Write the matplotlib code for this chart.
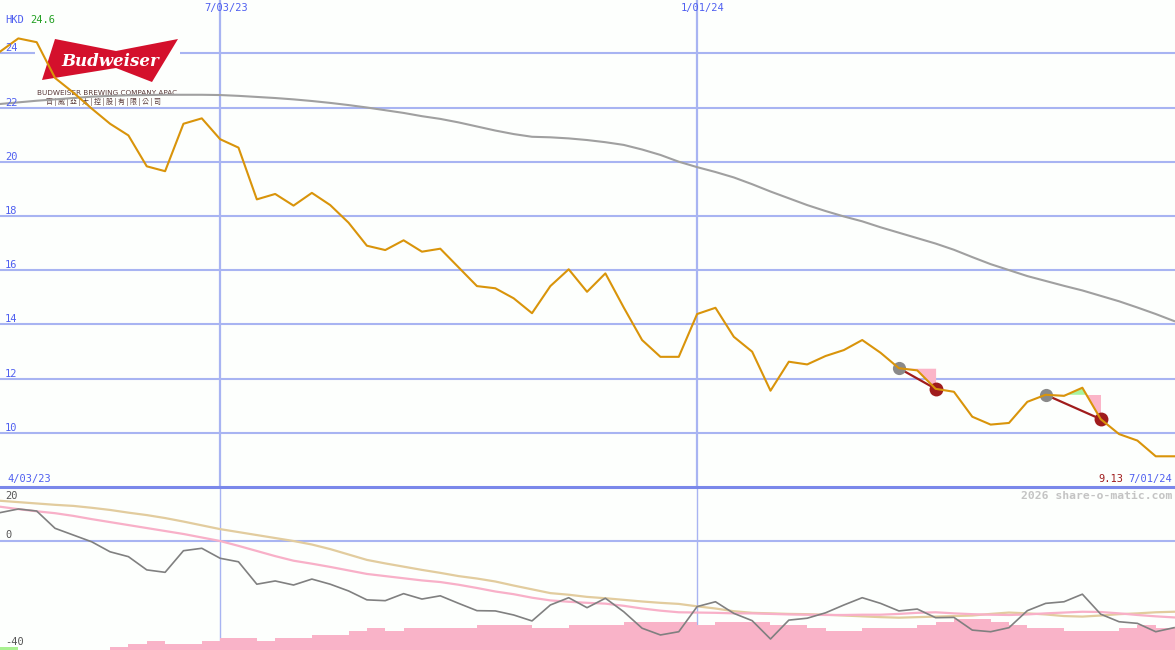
import numpy as np
import pandas as pd
import matplotlib
matplotlib.use('Agg')
import matplotlib.pyplot as plt
import matplotlib.dates as mdates
import matplotlib.transforms as mtransforms
from matplotlib.patches import Polygon, Rectangle

# weekly closes, HKD
weeks = pd.date_range('2023-04-10', periods=65, freq='7D')
price = [24.06, 24.55, 24.41, 23.09, 22.55, 21.96, 21.40, 20.97, 19.83, 19.65,
         21.40, 21.60, 20.83, 20.52, 18.61, 18.81, 18.38, 18.85, 18.40, 17.75,
         16.90, 16.74, 17.10, 16.68, 16.79, 16.10, 15.41, 15.33, 14.96, 14.41,
         15.41, 16.03, 15.20, 15.88, 14.62, 13.42, 12.80, 12.80, 14.38, 14.61,
         13.54, 12.99, 11.55, 12.62, 12.52, 12.83, 13.05, 13.42, 12.95, 12.38,
         12.30, 11.62, 11.51, 10.59, 10.30, 10.36, 11.14, 11.40, 11.36, 11.66,
         10.50, 9.95, 9.71, 9.13, 9.13]
# long moving average (grey)
ma_long = [22.13, 22.19, 22.25, 22.30, 22.35, 22.40, 22.43, 22.45, 22.46, 22.47,
           22.47, 22.47, 22.46, 22.43, 22.39, 22.35, 22.30, 22.24, 22.17, 22.09,
           22.00, 21.90, 21.80, 21.68, 21.58, 21.45, 21.30, 21.15, 21.02, 20.92,
           20.90, 20.86, 20.80, 20.72, 20.62, 20.45, 20.25, 20.00, 19.80, 19.62,
           19.42, 19.17, 18.90, 18.65, 18.40, 18.18, 17.98, 17.80, 17.58, 17.38,
           17.18, 16.98, 16.75, 16.48, 16.22, 16.00, 15.78, 15.60, 15.42, 15.25,
           15.05, 14.85, 14.62, 14.38, 14.12]

# lower panel oscillator
osc = [10.5, 11.85, 11.1, 4.7, 2.2, -0.3, -4.0, -5.8, -10.7, -11.6,
       -3.6, -2.7, -6.4, -7.7, -16.0, -14.8, -16.3, -14.1, -16.0, -18.5,
       -21.8, -22.1, -19.5, -21.5, -20.3, -23.1, -25.8, -25.9, -27.4, -29.6,
       -23.7, -21.0, -24.7, -21.2, -26.2, -32.3, -34.8, -33.6, -24.3, -22.5,
       -26.8, -29.5, -36.3, -29.3, -28.6, -26.6, -23.7, -21.0, -23.1, -25.9,
       -25.2, -28.4, -28.3, -33.0, -33.6, -32.1, -25.8, -23.1, -22.5, -19.7,
       -27.1, -29.9, -30.5, -33.6, -32.1]
osc_pink = [12.7, 11.8, 11.0, 10.3, 9.3, 8.1, 7.0, 5.9, 4.8, 3.7,
            2.6, 1.3, 0.0, -1.8, -3.7, -5.6, -7.3, -8.4, -9.6, -10.9,
            -12.2, -13.0, -13.8, -14.6, -15.2, -16.2, -17.4, -18.7, -19.7, -21.0,
            -22.0, -22.5, -22.9, -23.2, -24.0, -25.0, -25.8, -26.4, -26.5, -26.6,
            -26.8, -26.8, -27.0, -27.2, -27.3, -27.4, -27.4, -27.3, -27.3, -27.0,
            -26.6, -26.4, -26.8, -27.1, -27.3, -27.4, -27.2, -26.8, -26.5, -26.2,
            -26.3, -26.8, -27.4, -27.9, -28.3]
osc_tan = [14.9, 14.4, 13.9, 13.4, 13.0, 12.3, 11.5, 10.5, 9.6, 8.5,
           7.2, 5.8, 4.4, 3.3, 2.2, 1.1, 0.0, -1.3, -3.0, -5.0,
           -7.0, -8.3, -9.5, -10.7, -11.8, -13.0, -13.9, -15.0, -16.5, -17.9,
           -19.3, -19.9, -20.7, -21.2, -21.8, -22.4, -22.9, -23.3, -24.2, -25.0,
           -26.0, -26.6, -26.8, -27.0, -27.1, -27.3, -27.6, -27.9, -28.2, -28.4,
           -28.2, -28.0, -27.8, -27.6, -27.0, -26.5, -26.8, -27.2, -27.8, -28.0,
           -27.6, -27.1, -26.8, -26.4, -26.2]
nan = np.nan
hist_top = [-39.3, nan, nan, nan, nan, nan, -39.4, -38.1, -37.0, -38.1,
            -38.1, -37.0, -35.9, -35.9, -37.0, -35.9, -35.9, -34.8, -34.8, -33.3,
            -32.3, -33.3, -32.3, -32.3, -32.3, -32.3, -31.1, -31.1, -31.1, -32.3,
            -32.3, -31.1, -31.1, -31.1, -29.9, -29.9, -29.9, -29.9, -31.1, -29.9,
            -29.9, -29.9, -31.1, -31.1, -32.3, -33.3, -33.3, -32.3, -32.3, -32.3,
            -31.1, -29.9, -28.9, -28.9, -29.9, -31.1, -32.3, -32.3, -33.3, -33.3,
            -33.3, -32.3, -31.1, -32.3, -32.3]
hist_green = [0]

# trades: (entry week index, exit week index)
trades = [(49, 51), (57, 60)]

date_lines = ['2023-07-03', '2024-01-01']
date_labels = ['7/03/23', '1/01/24']
price_ticks = [10, 12, 14, 16, 18, 20, 22, 24]
osc_ticks = [20, 0, -40]

BG = '#fdfffd'
GRID = '#a8b4f2'
SEP = '#7a88ea'
BLUE = '#4f5ff0'
ORANGE = '#d9940a'
PINK_FILL = '#fbb5c8'
GREEN_FILL = '#a8f4a0'
DARKRED = '#a01c1c'
MONO = 'DejaVu Sans Mono'

x = mdates.date2num(weeks)
step = 7.0
x0 = x[0]
x1 = x[0] + 64.05 * step

fig = plt.figure(figsize=(11.75, 6.5), dpi=100, facecolor=BG)
ax1 = fig.add_axes([0, 163 / 650, 1, 487 / 650])
ax2 = fig.add_axes([0, 0, 1, 163 / 650])
for ax in (ax1, ax2):
    ax.set_facecolor(BG)
    ax.set_xlim(x0, x1)
    ax.set_xticks([])
    ax.set_yticks([])
    for s in ax.spines.values():
        s.set_visible(False)
ax1.set_ylim(7.997, 25.967)
ax2.set_ylim(-40.37, 20)

# pixel transform (origin top-left)
px = mtransforms.Affine2D().scale(1 / 100, -1 / 100).translate(0, 6.5) + fig.dpi_scale_trans

# grid
for v in price_ticks:
    ax1.axhline(v, color=GRID, lw=1.5, zorder=1)
    ax1.text(5 / 1175, v, str(v), transform=ax1.get_yaxis_transform(), color=BLUE,
             fontsize=7.5, family=MONO, va='bottom', ha='left', zorder=6)
ax2.axhline(20, color=SEP, lw=2.2, zorder=5, clip_on=False)
ax2.axhline(0, color=GRID, lw=1.5, zorder=1)
for d, lab in zip(date_lines, date_labels):
    xd = mdates.date2num(pd.Timestamp(d))
    ax1.axvline(xd, color=GRID, lw=1.6, zorder=1)
    ax2.axvline(xd, color=GRID, lw=1.0, zorder=1)
    ax1.text(xd + 0.3 * step, 1 - 8 / 487, lab, transform=ax1.get_xaxis_transform(),
             color=BLUE, fontsize=7.5, family=MONO, ha='center', va='center')

# logo box with Budweiser bow-tie
ax1.add_patch(Rectangle((35, 31), 145, 75, transform=px, facecolor=BG, edgecolor='none', zorder=2))
bow = [(55, 39), (116, 51), (178, 39), (152, 82), (116, 68), (42, 80)]
ax1.add_patch(Polygon(bow, closed=True, transform=px, facecolor='#d4102c', edgecolor='none', zorder=2.1))
ax1.text(110, 62, 'Budweiser', transform=px, color='white', fontsize=12, family='DejaVu Serif',
         style='italic', weight='bold', ha='center', va='center', zorder=2.2)
ax1.text(107, 93, 'BUDWEISER BREWING COMPANY APAC', transform=px, color='#5a3a3a', fontsize=5.2,
         family='DejaVu Sans', ha='center', va='center', zorder=2.2)
ax1.text(104, 102, '百 | 威 | 亞 | 太 | 控 | 股 | 有 | 限 | 公 | 司', transform=px, color='#5a3a3a',
         fontsize=5, family=['Noto Sans CJK TC', 'DejaVu Sans'], ha='center', va='center', zorder=2.2)

# price and moving average
ax1.plot(x, ma_long, color='#a0a0a0', lw=1.5, zorder=3)

p = np.array(price)
for a, b in trades:
    xs = x[a:b + 1]
    ys = p[a:b + 1]
    lvl = p[a]
    ax1.fill_between(xs, lvl, ys, where=ys <= lvl, interpolate=True, color=PINK_FILL, lw=0, zorder=3.2)
    ax1.fill_between(xs, lvl, ys, where=ys >= lvl, interpolate=True, color=GREEN_FILL, lw=0, zorder=3.2)
    ax1.plot([x[a], x[b]], [p[a], p[b]], color=DARKRED, lw=1.6, zorder=3.4)
    ax1.plot(x[a], p[a], 'o', ms=9.5, color='#8a8a8a', mec='none', zorder=3.5)
    ax1.plot(x[b], p[b], 'o', ms=10, color=DARKRED, mec='none', zorder=3.5)

ax1.plot(x, price, color=ORANGE, lw=1.5, zorder=4)

# header / footer text
ax1.text(5, 20, 'HKD', transform=px, color=BLUE, fontsize=7.5, family=MONO, va='center', ha='left')
ax1.text(30, 20, '%.1f' % max(price), transform=px, color='#22a022', fontsize=7.5, family=MONO,
         va='center', ha='left')
ax1.text(7, 479, '4/03/23', transform=px, color=BLUE, fontsize=7.5, family=MONO, va='center', ha='left')
ax1.text(1123, 479, '%.2f' % price[-1], transform=px, color=DARKRED, fontsize=7.5, family=MONO,
         va='center', ha='right')
ax1.text(1172, 479, '7/01/24', transform=px, color=BLUE, fontsize=7.5, family=MONO, va='center', ha='right')

# lower panel
bottom = -40.37
ht = np.array(hist_top)
cols = ['#a8f090' if i in hist_green else '#f9b3c8' for i in range(len(ht))]
ax2.bar(x, ht - bottom, bottom=bottom, width=step, align='edge', color=cols, lw=0, zorder=2)
ax2.plot(x, osc_tan, color='#e2cc9e', lw=1.6, zorder=3)
ax2.plot(x, osc_pink, color='#f8b0c8', lw=1.6, zorder=3)
ax2.plot(x, osc, color='#808080', lw=1.2, zorder=4)

ax2.text(5, 496, str(osc_ticks[0]), transform=px, color='#555555', fontsize=7.5, family=MONO,
         va='center', ha='left')
ax2.text(5, 535, str(osc_ticks[1]), transform=px, color='#555555', fontsize=7.5, family=MONO,
         va='center', ha='left')
ax2.text(5, 642, str(osc_ticks[2]), transform=px, color='#555555', fontsize=7.5, family=MONO,
         va='center', ha='left')
ax2.text(1172, 496, '2026 share-o-matic.com', transform=px, color='#c4c4c4', fontsize=8.2,
         family=MONO, weight='bold', va='center', ha='right')

fig.savefig('out.png', dpi=100, facecolor=BG)
